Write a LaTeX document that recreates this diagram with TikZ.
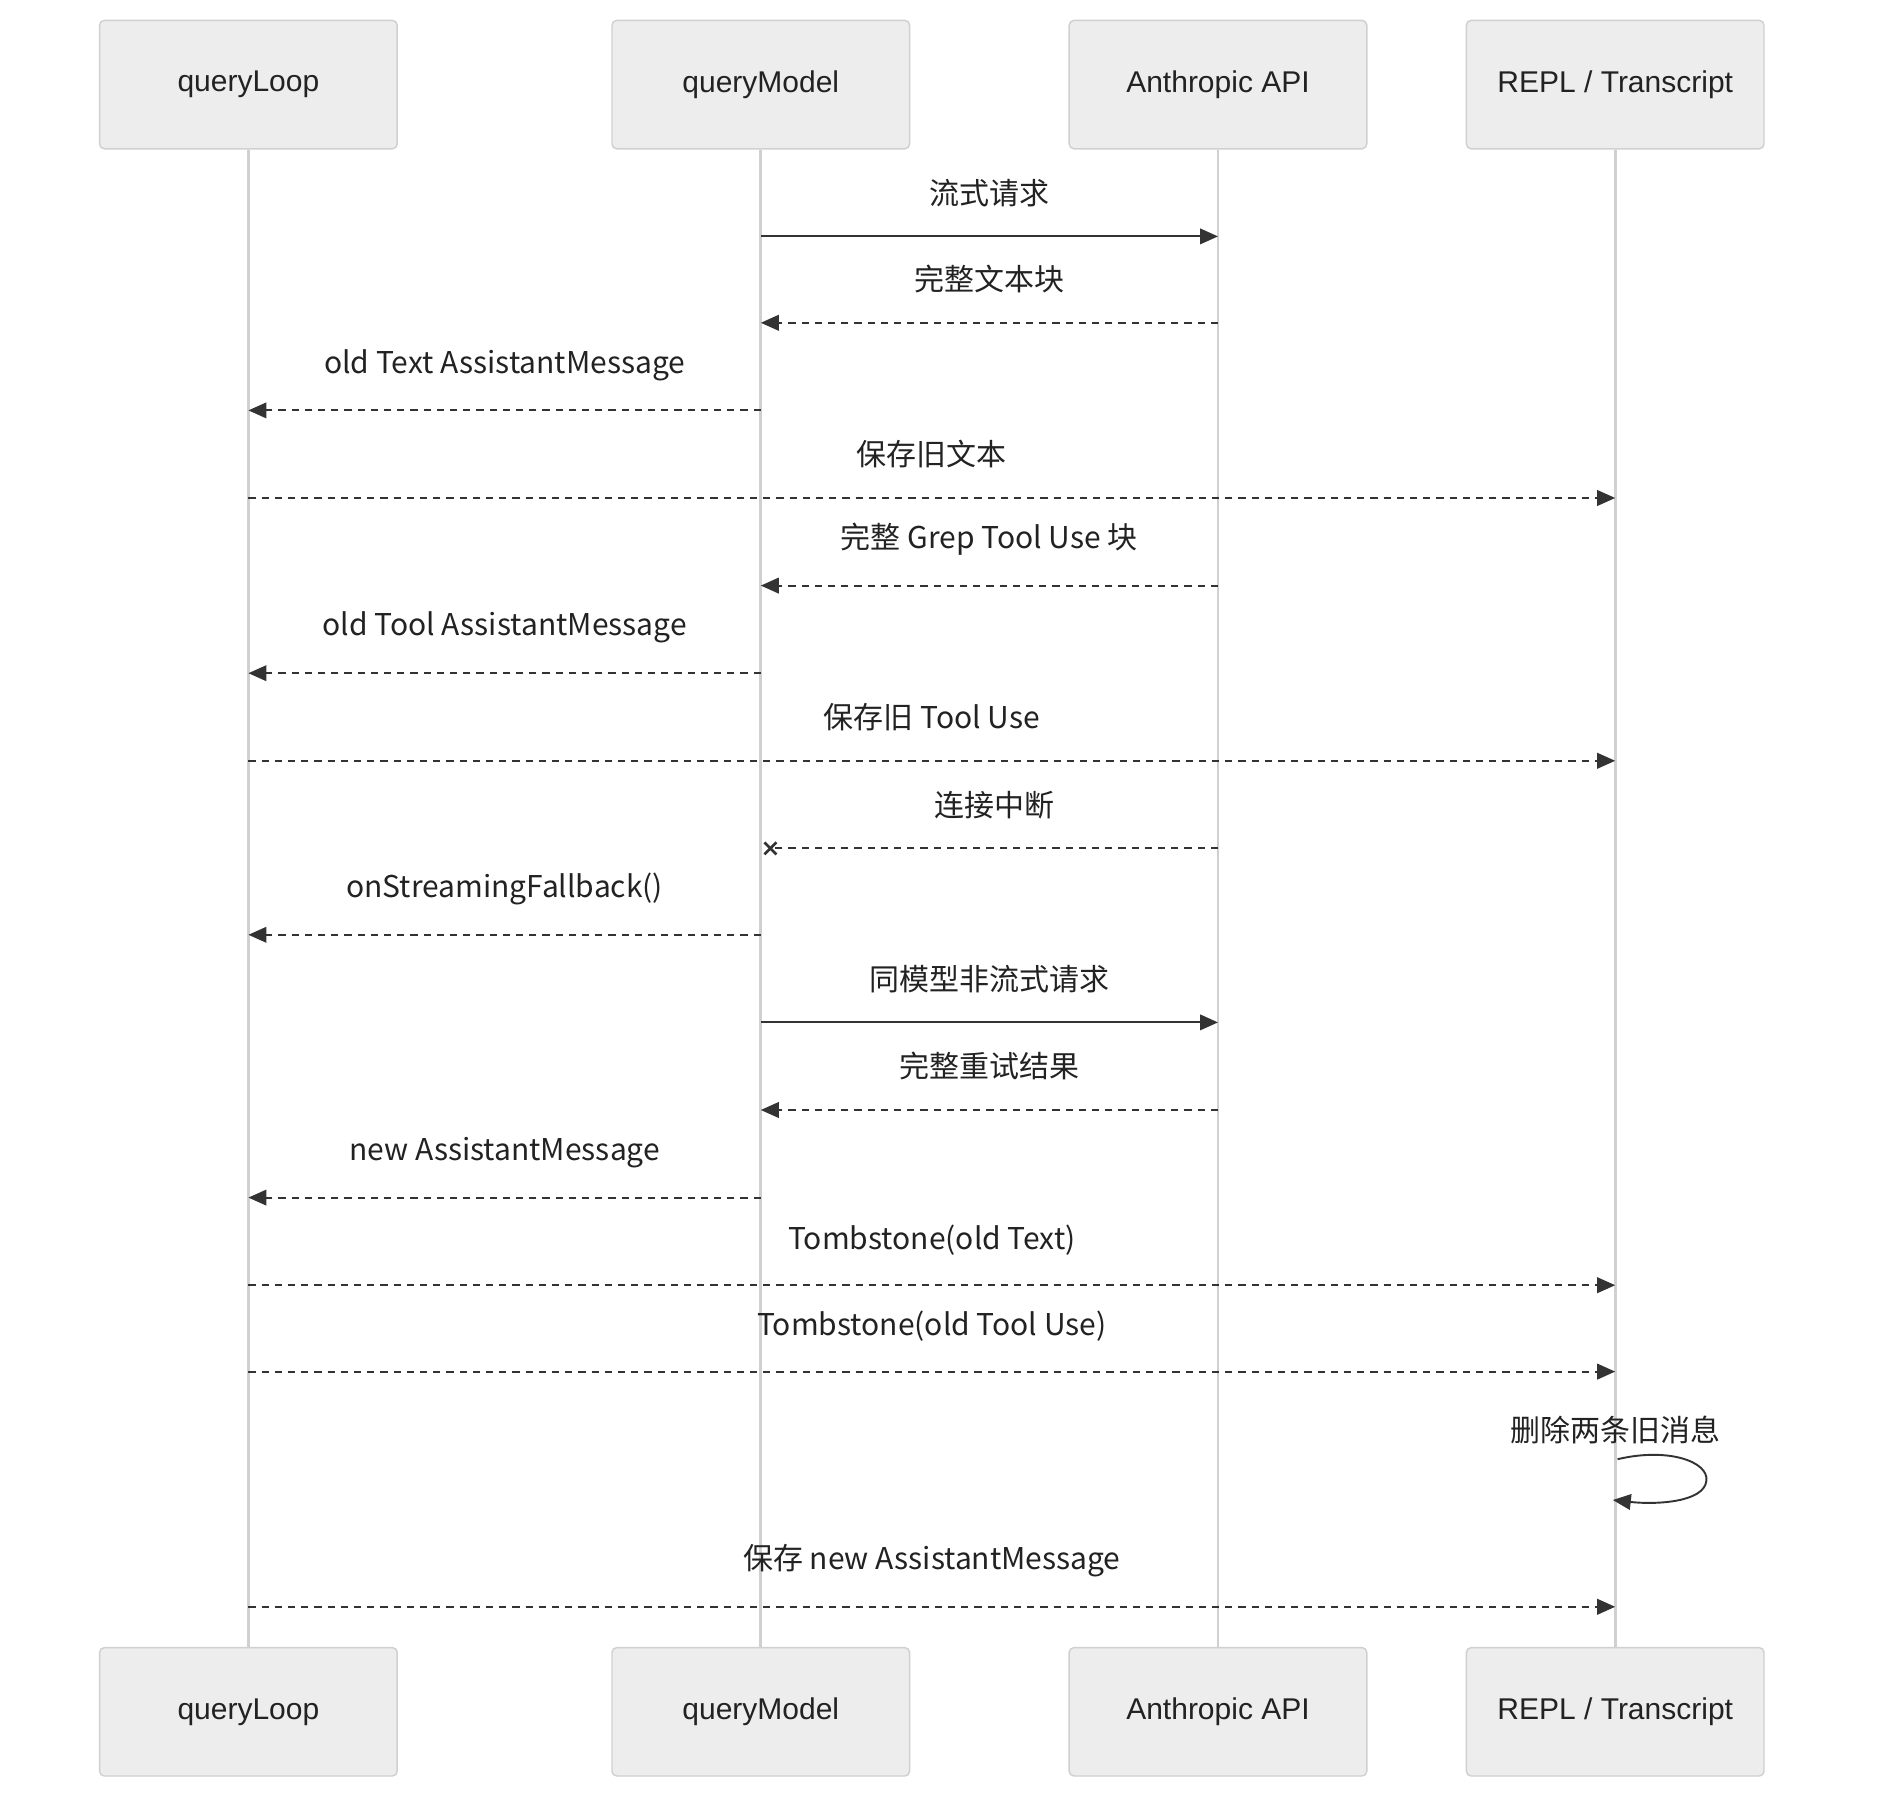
\documentclass[tikz,border=0pt]{standalone}
\usepackage{fontspec}
\setmainfont{Liberation Sans}
\newfontfamily\cjk{Noto Sans CJK SC}
\usetikzlibrary{arrows.meta}
\usetikzlibrary{positioning}

\tikzset{
  actor/.style={draw={rgb,255:red,208;green,208;blue,208}, fill={rgb,255:red,237;green,237;blue,237}, rounded corners=2pt, line width=0.6pt, minimum width=124pt, minimum height=53.5pt, font=\fontsize{12.5}{14}\selectfont, text={rgb,255:red,34;green,34;blue,34}},
  life/.style={draw={rgb,255:red,208;green,208;blue,208}, line width=1.2pt},
  call/.style={draw={rgb,255:red,51;green,51;blue,51}, line width=0.8pt, -{Triangle[length=7.5pt,width=6.5pt]}},
  reply/.style={call, dash pattern=on 3pt off 2.5pt},
  lost/.style={draw={rgb,255:red,51;green,51;blue,51}, line width=0.8pt, dash pattern=on 3pt off 2.5pt},
  lbl/.style={font=\fontsize{12.5}{14}\selectfont\cjk, text={rgb,255:red,34;green,34;blue,34}, inner sep=0pt}
}

\begin{document}
\begin{tikzpicture}[x=0.5pt,y=0.5pt,yscale=-1]
  \useasboundingbox (0,0) rectangle (1565,1508);

  % participants
  \node [actor] (loopT)  at (207,70.5)  {queryLoop};
  \node [actor] (modelT) at (634,70.5)  {queryModel};
  \node [actor] (apiT)   at (1015,70.5) {Anthropic API};
  \node [actor] (replT)  at (1346,70.5) {REPL / Transcript};
  \node [actor] (loopB)  at (207,1426.5)  {queryLoop};
  \node [actor] (modelB) at (634,1426.5)  {queryModel};
  \node [actor] (apiB)   at (1015,1426.5) {Anthropic API};
  \node [actor] (replB)  at (1346,1426.5) {REPL / Transcript};

  % lifelines
  \foreach \p in {loop,model,api,repl}
    \draw [life] (\p T.south) -- (\p B.north);

  % message anchors
  \foreach \n/\y in {1/197,2/269,3/342,4/415,5/488,6/561,7/634,8/707,9/779,10/852,11/925,12/998,13/1071,14/1143,15/1339}{
    \coordinate (loop\n)  at (207,\y);
    \coordinate (model\n) at (634,\y);
    \coordinate (api\n)   at (1015,\y);
    \coordinate (repl\n)  at (1346,\y);
  }

  \draw [call]  (model1) -- node [lbl, above=12pt] {流式请求} (api1);
  \draw [reply] (api2) -- node [lbl, above=12pt] {完整文本块} (model2);
  \draw [reply] (model3) -- node [lbl, above=12pt] {old Text AssistantMessage} (loop3);
  \draw [reply] (loop4) -- node [lbl, above=12pt] {保存旧文本} (repl4);
  \draw [reply] (api5) -- node [lbl, above=12pt] {完整 Grep Tool Use 块} (model5);
  \draw [reply] (model6) -- node [lbl, above=12pt] {old Tool AssistantMessage} (loop6);
  \draw [reply] (loop7) -- node [lbl, above=12pt] {保存旧 Tool Use} (repl7);
  \draw [lost]  (api8) -- node [lbl, above=12pt] {连接中断} ([xshift=4pt]model8);
  \draw [draw={rgb,255:red,51;green,51;blue,51}, line width=1.1pt]
    ([xshift=1.5pt,yshift=-2.5pt]model8) -- ([xshift=6.5pt,yshift=2.5pt]model8)
    ([xshift=1.5pt,yshift=2.5pt]model8) -- ([xshift=6.5pt,yshift=-2.5pt]model8);
  \draw [reply] (model9) -- node [lbl, above=12pt] {onStreamingFallback()} (loop9);
  \draw [call]  (model10) -- node [lbl, above=12pt] {同模型非流式请求} (api10);
  \draw [reply] (api11) -- node [lbl, above=12pt] {完整重试结果} (model11);
  \draw [reply] (model12) -- node [lbl, above=12pt] {new AssistantMessage} (loop12);
  \draw [reply] (loop13) -- node [lbl, above=12pt] {Tombstone(old Text)} (repl13);
  \draw [reply] (loop14) -- node [lbl, above=12pt] {Tombstone(old Tool Use)} (repl14);

  % self message
  \coordinate (selfA) at (1348,1216);
  \coordinate (selfB) at (1344,1250);
  \node [lbl] (selfL) at (1346,1192) {删除两条旧消息};
  \draw [call] (selfA) .. controls (1390,1206) and (1424,1218) .. (1422,1234)
    .. controls (1420,1252) and (1380,1254) .. (selfB);

  \draw [reply] (loop15) -- node [lbl, above=12pt] {保存 new AssistantMessage} (repl15);
\end{tikzpicture}
\end{document}
